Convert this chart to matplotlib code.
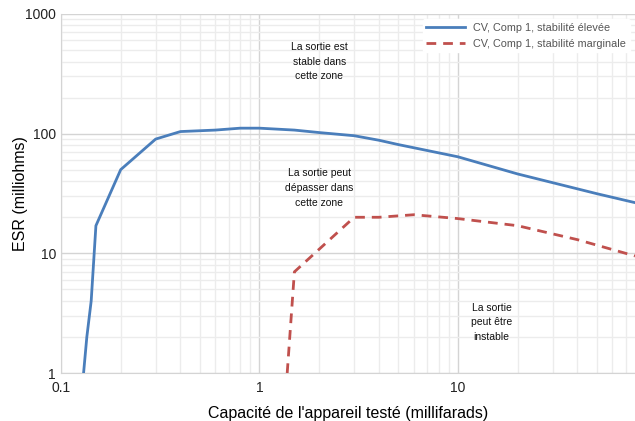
import matplotlib
matplotlib.use("Agg")
from matplotlib import pyplot as plt
from matplotlib.ticker import FixedLocator, NullFormatter, LogLocator

plt.rcParams['font.family'] = ['Liberation Sans', 'DejaVu Sans']

# data
cap_high = [0.13, 0.135, 0.142, 0.15, 0.2, 0.3, 0.4, 0.6, 0.8, 1, 1.5, 2, 3, 4, 5, 10, 20, 50, 78]
esr_high = [1, 2, 4, 17, 50, 90, 104, 107, 111, 111, 107, 102, 96, 88, 81, 64, 46, 31.5, 26.5]

cap_marg = [1.38, 1.5, 3, 4, 6, 10, 20, 40, 78]
esr_marg = [1, 7, 20, 20, 21, 19.5, 17, 13, 9.5]

label_high = "CV, Comp 1, stabilité élevée"
label_marg = "CV, Comp 1, stabilité marginale"

zones = [
    (2.0, 400, "La sortie est\nstable dans\ncette zone"),
    (2.0, 35, "La sortie peut\ndépasser dans\ncette zone"),
    (14.8, 2.65, "La sortie\npeut être\ninstable"),
]

fig = plt.figure(figsize=(6.35, 4.21), dpi=100)
ax = fig.add_axes([0.096, 0.114, 0.904, 0.853])

ax.plot(cap_high, esr_high, color='#4a7ebb', lw=2, label=label_high, zorder=3)
ax.plot(cap_marg, esr_marg, color='#c0504d', lw=2, ls=(0, (3.5, 2.5)), label=label_marg, zorder=3)

ax.set_xscale('log')
ax.set_yscale('log')
ax.set_xlim(0.1, 78)
ax.set_ylim(1, 1000)

ax.xaxis.set_major_locator(FixedLocator([0.1, 1, 10]))
ax.set_xticklabels(['0.1', '1', '10'])
ax.yaxis.set_major_locator(FixedLocator([1, 10, 100, 1000]))
ax.set_yticklabels(['1', '10', '100', '1000'])
ax.xaxis.set_minor_locator(LogLocator(base=10, subs=range(2, 10)))
ax.yaxis.set_minor_locator(LogLocator(base=10, subs=range(2, 10)))
ax.xaxis.set_minor_formatter(NullFormatter())
ax.yaxis.set_minor_formatter(NullFormatter())
ax.tick_params(which='both', length=0, labelsize=10, colors='#222222')
ax.tick_params(axis='x', pad=6)

ax.grid(which='minor', color='#ececec', lw=1)
ax.grid(which='major', color='#d4d4d4', lw=1)
ax.set_axisbelow(True)

for side in ['top', 'right']:
    ax.spines[side].set_visible(False)
for side in ['left', 'bottom']:
    ax.spines[side].set_color('#d4d4d4')

ax.set_xlabel("Capacité de l'appareil testé (millifarads)", fontsize=11.5, labelpad=8)
ax.set_ylabel("ESR (milliohms)", fontsize=11.5, labelpad=-2)

for x, y, txt in zones:
    ax.text(x, y, txt, ha='center', va='center', fontsize=7.5, linespacing=1.6, color='#111111')

leg = ax.legend(loc='upper right', fontsize=7.8, frameon=True, handlelength=3.6,
                borderaxespad=0.5, labelspacing=0.6, borderpad=0.3)
leg.get_frame().set_edgecolor('white')
leg.get_frame().set_alpha(1)
for t in leg.get_texts():
    t.set_color('#555555')

fig.savefig('out.png', dpi=100)
